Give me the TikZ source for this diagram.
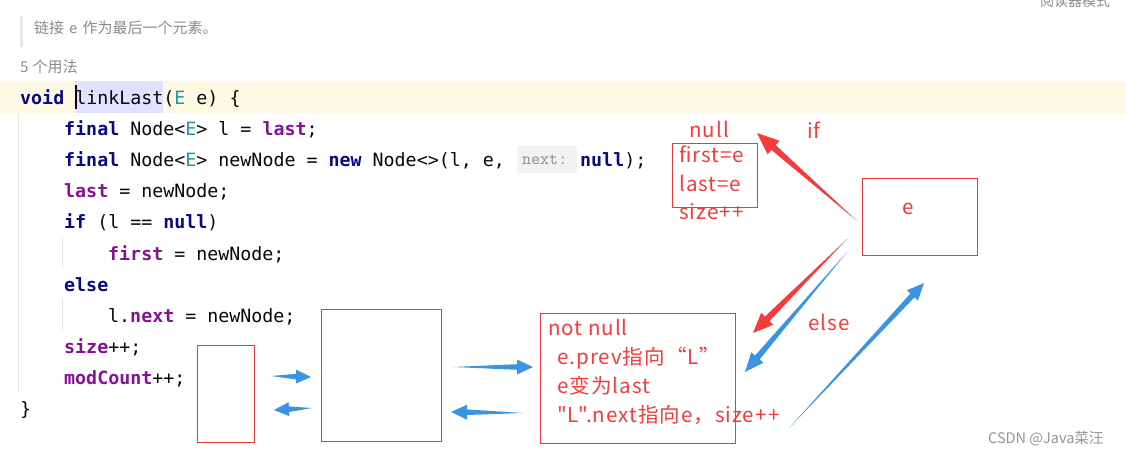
\documentclass[tikz,border=0pt]{standalone}
\usepackage{fontspec}
\usetikzlibrary{calc}
\newfontfamily\codefont{DejaVu Sans Mono}
\newfontfamily\cjkfont{Noto Sans CJK SC}
\newfontfamily\annfont[LetterSpace=5]{Noto Sans CJK SC}
\definecolor{kw}{HTML}{0A0A80}
\definecolor{fld}{HTML}{871094}
\definecolor{tealE}{HTML}{20999D}
\definecolor{codefg}{HTML}{080808}
\definecolor{hint}{HTML}{8C8C8C}
\definecolor{annred}{HTML}{F53B3B}
\definecolor{boxred}{HTML}{E83A3A}
\definecolor{arrblue}{HTML}{3A94E2}
\definecolor{band}{HTML}{FEF9E5}
\definecolor{lav}{HTML}{E2E2FF}
\definecolor{guide}{HTML}{E6E6E6}
\newcommand\K[1]{{\bfseries\color{kw}#1}}
\newcommand\F[1]{{\bfseries\color{fld}#1}}
\newcommand\T[1]{{\color{tealE}#1}}
\newcommand\tarrow[6]{%
  \path ($(#3)!#4!(#2)$) coordinate (tb);
  \fill[#1] (#2) -- ($(tb)!#6!90:(#3)$) -- ($(tb)!#5!90:(#3)$) -- (#3)
    -- ($(tb)!#5!-90:(#3)$) -- ($(tb)!#6!-90:(#3)$) -- cycle;}
\tikzset{
  code/.style={anchor=base west, inner sep=0pt, text=codefg, font=\codefont\fontsize{18.3}{20}\selectfont},
  ann/.style={anchor=base west, inner sep=0pt, text=annred, font=\annfont\fontsize{20.5}{24}\selectfont},
  grey/.style={anchor=base west, inner sep=0pt, text=hint, font=\cjkfont\fontsize{15}{18}\selectfont},
  rbox/.style={draw=boxred, line width=1pt},
}
\begin{document}
\begin{tikzpicture}[x=1pt,y=-1pt]
\useasboundingbox (0,0) rectangle (1126,454);
\clip (0,0) rectangle (1126,454);
\fill[white] (0,0) rectangle (1126,454);
% header
\node[grey, font=\cjkfont\fontsize{14}{16}\selectfont] (reader) at (1040,7) {阅读器模式};
\fill[guide] (20,16) rectangle (23,47);
\node[grey] (doc) at (34,34) {链接\hspace{5pt}{\codefont\fontsize{14}{16}\selectfont e}\hspace{5pt}作为最后一个元素。};
\node[grey] (usages) at (20,73) {5\hspace{4pt}个用法};
% highlight band
\fill[band] (0,81) rectangle (1126,113);
\fill[lav] (75,81) rectangle (163,113);
% indent guides
\draw[guide, line width=1pt] (18,113) -- (18,392);
\draw[guide, line width=1pt] (62,237) -- (62,268);
\draw[guide, line width=1pt] (62,298) -- (62,330);
% code
\node[code] (c1) at (20,105) {\K{void} linkLast(\T{E} e) \{};
\fill[black] (75,85) rectangle (77,109);
\node[code] (c2) at (64,136) {\K{final} Node<\T{E}> l = \F{last};};
\node[code] (c3) at (64,167) {\K{final} Node<\T{E}> newNode = \K{new} Node<>(l, e,};
\fill[black!5, rounded corners=3pt] (517,146) rectangle (577,173);
\node[anchor=base west, inner sep=0pt, text=hint, font=\ttfamily\fontsize{17.5}{20}\selectfont] (hintn) at (522,165) {next:};
\node[code] (c3b) at (580,167) {\K{null});};
\node[code] (c4) at (64,198) {\F{last} = newNode;};
\node[code] (c5) at (64,229) {\K{if} (l == \K{null})};
\node[code] (c6) at (108,260) {\F{first} = newNode;};
\node[code] (c7) at (64,291) {\K{else}};
\node[code] (c8) at (108,322) {l.\F{next} = newNode;};
\node[code] (c9) at (64,353) {\F{size}++;};
\node[code] (c10) at (64,384) {\F{modCount}++;};
\node[code] (c11) at (20,415) {\}};
% annotation boxes
\draw[rbox] (672,144) rectangle (757,208);
\draw[rbox] (862,179) rectangle (977,255);
\draw[rbox] (540,313) rectangle (735,443);
\draw[rbox] (321,309) rectangle (441,441);
\draw[rbox] (197,345) rectangle (254,442);
% annotation texts
\node[ann] (null) at (689,138) {null};
\node[ann] (if) at (807,139) {if};
\node[ann] (t1) at (679,163) {first=e};
\node[ann] (t2) at (679,192) {last=e};
\node[ann] (t3) at (679,220) {size+\hspace{2pt}+};
\node[ann] (e) at (902,215) {e};
\node[ann] (else) at (808,330) {else};
\node[ann] (n0) at (548,335) {not null};
\node[ann] (n1) at (557,364) {e.prev指向“L”};
\node[ann] (n2) at (557,393) {e变为last};
\node[ann] (n3) at (557,422) {"L".next指向e，size+\hspace{2pt}+};
\node[anchor=base west, inner sep=0pt, text=black!42, font=\cjkfont\fontsize{14.5}{16}\selectfont] (wm) at (988,443) {CSDN @Java菜汪};
% arrows
\coordinate (a1s) at (857,221); \coordinate (a1t) at (757,133);
\coordinate (a2s) at (847,239); \coordinate (a2t) at (753,333);
\coordinate (a3s) at (847,252); \coordinate (a3t) at (745,372);
\coordinate (a4s) at (789,428); \coordinate (a4t) at (924,283);
\coordinate (a5s) at (453,367); \coordinate (a5t) at (533,367);
\coordinate (a6s) at (523,413); \coordinate (a6t) at (451,412);
\coordinate (a7s) at (271,376); \coordinate (a7t) at (311,377);
\coordinate (a8s) at (312,408); \coordinate (a8t) at (274,410);
\tarrow{annred}{a1s}{a1t}{22pt}{9pt}{3.2pt}
\tarrow{annred}{a2s}{a2t}{20pt}{8.5pt}{3.2pt}
\tarrow{arrblue}{a3s}{a3t}{19pt}{8pt}{3pt}
\tarrow{arrblue}{a4s}{a4t}{17pt}{7.5pt}{2.8pt}
\tarrow{arrblue}{a5s}{a5t}{16pt}{7.5pt}{2.8pt}
\tarrow{arrblue}{a6s}{a6t}{16pt}{7.5pt}{2.8pt}
\tarrow{arrblue}{a7s}{a7t}{15pt}{7pt}{2.8pt}
\tarrow{arrblue}{a8s}{a8t}{15pt}{7pt}{2.8pt}
\end{tikzpicture}
\end{document}
